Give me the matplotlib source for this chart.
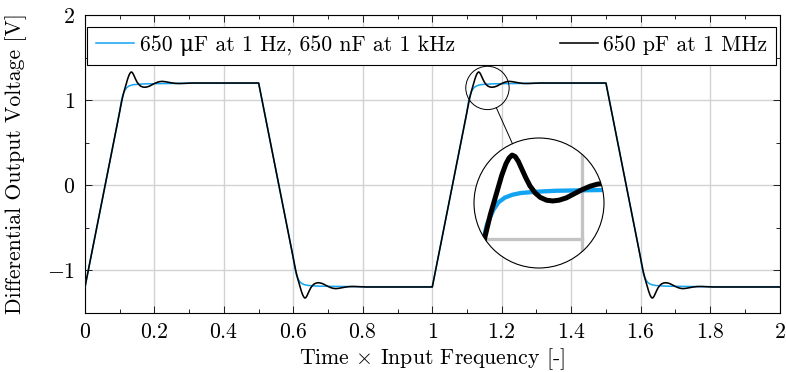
import numpy as np
import matplotlib
matplotlib.use("Agg")
import matplotlib.pyplot as plt
from matplotlib.patches import Circle, Ellipse
from matplotlib.lines import Line2D
from matplotlib.ticker import MultipleLocator, FuncFormatter

plt.rcParams["font.family"] = ["cmr10", "DejaVu Serif"]
plt.rcParams["mathtext.fontset"] = "cm"
plt.rcParams["axes.formatter.use_mathtext"] = True
plt.rcParams["font.size"] = 15.7
plt.rcParams["axes.unicode_minus"] = True

# ── Data: one period (time x input frequency), repeated for the 2nd period ──
t_blue = [0.000, 0.098, 0.104, 0.109, 0.115, 0.120, 0.126, 0.133, 0.141,
          0.155, 0.175, 0.220, 0.300, 0.500,
          0.598, 0.604, 0.609, 0.615, 0.620, 0.626, 0.633, 0.641,
          0.655, 0.675, 0.720, 0.800, 1.000]
v_blue = [-1.197, 0.820, 0.975, 1.060, 1.115, 1.145, 1.163, 1.174, 1.181,
          1.186, 1.190, 1.193, 1.197, 1.197,
          -0.820, -0.975, -1.060, -1.115, -1.145, -1.163, -1.174, -1.181,
          -1.186, -1.190, -1.193, -1.197, -1.197]

t_black = [0.000, 0.100, 0.107, 0.112, 0.118, 0.123, 0.127, 0.130, 0.133,
           0.136, 0.139, 0.142, 0.146, 0.150, 0.155, 0.160, 0.166, 0.172,
           0.178, 0.185, 0.192, 0.200, 0.208, 0.215, 0.222, 0.230, 0.240,
           0.250, 0.262, 0.275, 0.290, 0.310, 0.500,
           0.600, 0.607, 0.612, 0.618, 0.623, 0.627, 0.630, 0.633,
           0.636, 0.639, 0.642, 0.646, 0.650, 0.655, 0.660, 0.666, 0.672,
           0.678, 0.685, 0.692, 0.700, 0.708, 0.715, 0.722, 0.730, 0.740,
           0.750, 0.762, 0.775, 0.790, 0.810, 1.000]
v_black = [-1.200, 0.860, 1.010, 1.095, 1.180, 1.250, 1.295, 1.318, 1.330,
           1.324, 1.305, 1.278, 1.242, 1.210, 1.182, 1.164, 1.153, 1.150,
           1.153, 1.162, 1.177, 1.194, 1.208, 1.216, 1.219, 1.216, 1.209,
           1.201, 1.195, 1.194, 1.197, 1.200, 1.200,
           -0.860, -1.010, -1.095, -1.180, -1.250, -1.295, -1.318, -1.330,
           -1.324, -1.305, -1.278, -1.242, -1.210, -1.182, -1.164, -1.153, -1.150,
           -1.153, -1.162, -1.177, -1.194, -1.208, -1.216, -1.219, -1.216, -1.209,
           -1.201, -1.195, -1.194, -1.197, -1.200, -1.200]

label_blue = "650 \u03bcF at 1 Hz, 650 nF at 1 kHz"
label_black = "650 pF at 1 MHz"
blue = "#12A4F2"

tb = np.concatenate([t_blue, np.array(t_blue) + 1])
vb = np.concatenate([v_blue, v_blue])
tk = np.concatenate([t_black, np.array(t_black) + 1])
vk = np.concatenate([v_black, v_black])

# ── Layout (pixels) ──
W, H = 786, 372
ax_l, ax_r, ax_t, ax_b = 85, 779.6, 15, 312.5
xlim, ylim = (0, 2), (-1.5, 2)
ppx = (ax_r - ax_l) / (xlim[1] - xlim[0])
ppy = (ax_b - ax_t) / (ylim[1] - ylim[0])

fig = plt.figure(figsize=(W / 100, H / 100), dpi=100)
ax = fig.add_axes([ax_l / W, 1 - ax_b / H, (ax_r - ax_l) / W, (ax_b - ax_t) / H])

ax.plot(tb, vb, color=blue, lw=1.1, label=label_blue, zorder=3)
ax.plot(tk, vk, color="black", lw=1.15, label=label_black, zorder=4)

ax.set_xlim(*xlim)
ax.set_ylim(*ylim)
ax.xaxis.set_major_locator(MultipleLocator(0.2))
ax.xaxis.set_minor_locator(MultipleLocator(0.1))
ax.yaxis.set_major_locator(MultipleLocator(1))
ax.yaxis.set_minor_locator(MultipleLocator(0.5))
fmt = FuncFormatter(lambda v, p: f"${v:g}$")
ax.xaxis.set_major_formatter(fmt)
ax.yaxis.set_major_formatter(fmt)
ax.tick_params(which="both", direction="in", top=True, right=True, width=0.6)
ax.tick_params(which="major", length=5, pad=7)
ax.tick_params(which="minor", length=3)
ax.grid(True, which="major", color="#d2d2d2", lw=1.0)
ax.set_axisbelow(True)
for s in ax.spines.values():
    s.set_linewidth(0.8)

ax.set_xlabel(r"Time $\times$ Input Frequency [-]")
ax.set_ylabel("Differential Output Voltage [V]")
ax.yaxis.set_label_coords((27 - ax_l) / (ax_r - ax_l), 0.5)
ax.xaxis.set_label_coords(0.5, (ax_b - 346) / (ax_b - ax_t))

leg_top = 1 - (26.7 - ax_t) / (ax_b - ax_t)
leg_h = 36.7 / (ax_b - ax_t)
leg = ax.legend(loc="upper left", mode="expand", ncol=2,
                bbox_to_anchor=(0.0033, leg_top - leg_h, 0.9915, leg_h),
                borderaxespad=0, fancybox=False, framealpha=1,
                edgecolor="black", handlelength=1.75, handletextpad=0.25,
                borderpad=0.4)
leg.get_frame().set_linewidth(0.8)

# ── Magnifying lens (3x) ──
mag = 3
r_big = 65
big_c = (539, 203)          # pixel, from top-left
spot = (1.1588, 1.142)      # data point under the lens
r_small = r_big / mag

ax.add_patch(Ellipse(spot, 2 * r_small / ppx, 2 * r_small / ppy,
                     fc="none", ec="black", lw=0.7, zorder=6))

axin = fig.add_axes([(big_c[0] - r_big) / W, 1 - (big_c[1] + r_big) / H,
                     2 * r_big / W, 2 * r_big / H])
axin.set_axis_off()
axin.set_xlim(spot[0] - r_big / mag / ppx, spot[0] + r_big / mag / ppx)
axin.set_ylim(spot[1] - r_big / mag / ppy, spot[1] + r_big / mag / ppy)
bg = Circle((0.5, 0.5), 0.5, transform=axin.transAxes, fc="white", ec="none", zorder=0)
axin.add_patch(bg)
x0, x1 = axin.get_xlim()
gv = axin.axvline(1.2, color="#c4c4c4", lw=2.4, zorder=1)
gh = axin.axhline(1.0, xmax=(1.2 - x0) / (x1 - x0), color="#c4c4c4", lw=2.4, zorder=1)
lb, = axin.plot(tb, vb, color=blue, lw=3.1, zorder=3)
lk, = axin.plot(tk, vk, color="black", lw=3.6, zorder=4)
for a in (gv, gh, lb, lk):
    a.set_clip_path(bg)
axin.add_patch(Circle((0.5, 0.5), 0.5, transform=axin.transAxes,
                      fc="none", ec="black", lw=0.8, zorder=6, clip_on=False))

# connector between the two circles
sx = ax_l + (spot[0] - xlim[0]) * ppx
sy = ax_b - (spot[1] - ylim[0]) * ppy
dx, dy = big_c[0] - sx, big_c[1] - sy
d = np.hypot(dx, dy)
ux, uy = dx / d, dy / d
p0 = (sx + r_small * ux, sy + r_small * uy)
p1 = (big_c[0] - r_big * ux, big_c[1] - r_big * uy)
fig.add_artist(Line2D([p0[0] / W, p1[0] / W], [1 - p0[1] / H, 1 - p1[1] / H],
                      transform=fig.transFigure, color="black", lw=0.7))

fig.savefig("out.png", dpi=100)
